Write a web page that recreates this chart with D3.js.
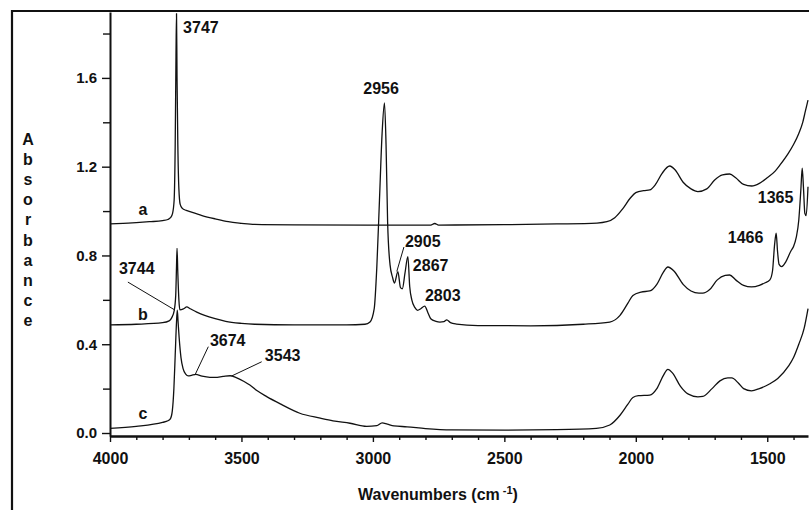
<!DOCTYPE html>
<html>
<head>
<meta charset="utf-8">
<script src="https://cdn.jsdelivr.net/npm/d3@7"></script>
<style>
  html, body { margin: 0; padding: 0; background: #fff; }
  svg { display: block; }
  text { font-family: "Liberation Sans", Arial, Helvetica, sans-serif; font-weight: bold; fill: #111; }
</style>
</head>
<body>
<svg id="chart" width="809" height="510"></svg>
<script>
// IR spectra: [wavenumber (cm-1), absorbance]
const spectrumA = [
  [4000, 0.942], [3950, 0.945], [3900, 0.948], [3850, 0.952], [3800, 0.957],
  [3780, 0.962], [3770, 0.970], [3762, 0.990], [3756, 1.050], [3752, 1.300],
  [3749, 1.700], [3747, 1.890], [3745, 1.600], [3742, 1.300], [3738, 1.100],
  [3733, 1.030], [3725, 1.012], [3710, 1.003], [3690, 0.995], [3650, 0.980],
  [3600, 0.965], [3550, 0.952], [3500, 0.945], [3450, 0.940], [3300, 0.938],
  [3000, 0.937], [2780, 0.937], [2765, 0.944], [2750, 0.937], [2500, 0.939],
  [2300, 0.942], [2148, 0.946], [2110, 0.952], [2080, 0.970], [2050, 1.010],
  [2020, 1.060], [2000, 1.083], [1970, 1.092], [1947, 1.095], [1925, 1.120],
  [1900, 1.170], [1871, 1.203], [1850, 1.185], [1820, 1.130], [1790, 1.100],
  [1764, 1.088], [1730, 1.100], [1700, 1.140], [1670, 1.163], [1643, 1.167],
  [1620, 1.150], [1590, 1.120], [1559, 1.113], [1530, 1.125], [1500, 1.150],
  [1470, 1.180], [1450, 1.210], [1420, 1.260], [1400, 1.300], [1380, 1.350],
  [1365, 1.400], [1355, 1.450], [1345, 1.500]
];

const spectrumB = [
  [4000, 0.487], [3900, 0.490], [3800, 0.497], [3775, 0.505], [3765, 0.520],
  [3756, 0.550], [3750, 0.620], [3747, 0.750], [3745, 0.832], [3742, 0.720],
  [3738, 0.600], [3734, 0.555], [3720, 0.560], [3708, 0.568], [3695, 0.560],
  [3670, 0.545], [3640, 0.530], [3600, 0.515], [3560, 0.503], [3500, 0.494],
  [3450, 0.490], [3300, 0.487], [3100, 0.487], [3030, 0.490], [3011, 0.500],
  [2995, 0.560], [2985, 0.750], [2975, 1.050], [2965, 1.350], [2956, 1.487],
  [2950, 1.300], [2944, 0.950], [2935, 0.760], [2925, 0.700], [2918, 0.676],
  [2905, 0.727], [2895, 0.655], [2888, 0.650], [2878, 0.720], [2867, 0.795],
  [2860, 0.660], [2852, 0.600], [2840, 0.565], [2830, 0.553], [2818, 0.560],
  [2803, 0.572], [2790, 0.540], [2780, 0.515], [2760, 0.503], [2745, 0.500],
  [2730, 0.502], [2719, 0.510], [2705, 0.497], [2682, 0.491], [2600, 0.484],
  [2400, 0.483], [2200, 0.490], [2099, 0.500], [2060, 0.530], [2030, 0.585],
  [2011, 0.620], [1980, 0.635], [1947, 0.640], [1920, 0.670], [1895, 0.725],
  [1878, 0.748], [1855, 0.730], [1820, 0.670], [1790, 0.640], [1760, 0.630],
  [1745, 0.630], [1720, 0.645], [1690, 0.690], [1660, 0.710], [1643, 0.712],
  [1620, 0.690], [1590, 0.665], [1560, 0.658], [1530, 0.665], [1510, 0.676],
  [1490, 0.690], [1480, 0.730], [1472, 0.850], [1466, 0.900], [1461, 0.820],
  [1455, 0.760], [1445, 0.750], [1430, 0.770], [1410, 0.820], [1400, 0.840],
  [1390, 0.880], [1380, 0.960], [1372, 1.100], [1367, 1.193], [1362, 1.100],
  [1357, 0.990], [1352, 0.980], [1345, 1.110]
];

const spectrumC = [
  [4000, 0.021], [3900, 0.030], [3800, 0.048], [3780, 0.055], [3770, 0.065],
  [3763, 0.100], [3757, 0.200], [3752, 0.350], [3747, 0.500], [3744, 0.554],
  [3741, 0.500], [3737, 0.430], [3730, 0.340], [3722, 0.290], [3712, 0.265],
  [3702, 0.257], [3690, 0.260], [3674, 0.264], [3650, 0.256], [3620, 0.251],
  [3600, 0.251], [3570, 0.255], [3543, 0.258], [3520, 0.250], [3490, 0.232],
  [3468, 0.216], [3440, 0.190], [3404, 0.164], [3350, 0.130], [3278, 0.089],
  [3200, 0.067], [3152, 0.055], [3087, 0.044], [3024, 0.030], [2985, 0.033],
  [2965, 0.046], [2945, 0.040], [2920, 0.032], [2870, 0.028], [2800, 0.020],
  [2700, 0.014], [2500, 0.013], [2300, 0.015], [2150, 0.021], [2099, 0.036],
  [2060, 0.080], [2030, 0.130], [2011, 0.160], [1990, 0.168], [1947, 0.171],
  [1920, 0.200], [1895, 0.260], [1878, 0.287], [1860, 0.270], [1830, 0.210],
  [1800, 0.175], [1764, 0.163], [1745, 0.165], [1710, 0.200], [1680, 0.235],
  [1650, 0.248], [1635, 0.248], [1610, 0.225], [1590, 0.200], [1560, 0.190],
  [1530, 0.200], [1490, 0.222], [1460, 0.246], [1420, 0.300], [1400, 0.340],
  [1380, 0.400], [1360, 0.470], [1345, 0.560]
];

// Axis ticks
const xMajorTicks = [4000, 3500, 3000, 2500, 2000, 1500];
const xMinorTicks = d3.range(3900, 1345, -100).filter(v => v % 500 !== 0);
const yMajorTicks = [0.0, 0.4, 0.8, 1.2, 1.6];
const yMinorTicks = [0.2, 0.6, 1.0, 1.4, 1.8];

// Trace letters and peak annotations (text, wavenumber, absorbance at baseline)
const traceNames = ["a", "b", "c"];
const traceNameY = [0.982, 0.509, 0.062];
const peakLabels = ["3747", "2956", "2905", "2867", "2803", "1466", "1365", "3744", "3674", "3543"];
const peakLabelWn = [3722, 2969, 2878, 2848, 2802, 1650, 1536, 3966, 3620, 3411];
const peakLabelA = [1.804, 1.526, 0.837, 0.731, 0.596, 0.858, 1.035, 0.717, 0.392, 0.324];
const peakLabelAnchor = ["start", "middle", "start", "start", "start", "start", "start", "start", "start", "start"];
// Leader lines: [fromWn, fromA, toWn, toA]
const leaders = [
  [2882, 0.838, 2909, 0.728],
  [3932, 0.680, 3753, 0.554],
  [3626, 0.389, 3677, 0.261],
  [3423, 0.321, 3537, 0.257]
];

const svg = d3.select("#chart");
const W = 809, H = 510;

const x = d3.scaleLinear().domain([4000, 1345]).range([110, 808]);
const y = d3.scaleLinear().domain([-0.0135, 1.897]).range([436, 12]);

// outer frame (extends past the visible page on right and bottom)
svg.append("path")
  .attr("d", `M12,${H + 10} L12,11 L${W + 10},11`)
  .attr("fill", "none").attr("stroke", "#111").attr("stroke-width", 2.2);

// clip for the spectra
svg.append("defs").append("clipPath").attr("id", "plot-clip")
  .append("rect").attr("x", 110).attr("y", 12).attr("width", 700).attr("height", 424);

const line = d3.line()
  .x(d => x(d[0]))
  .y(d => y(d[1]))
  .curve(d3.curveMonotoneX);

const traces = svg.append("g").attr("clip-path", "url(#plot-clip)");
[spectrumA, spectrumB, spectrumC].forEach(s => {
  traces.append("path")
    .attr("d", line(s))
    .attr("fill", "none")
    .attr("stroke", "#111")
    .attr("stroke-width", 1.3)
    .attr("stroke-linejoin", "round");
});

// x axis
const xAxisMinor = d3.axisBottom(x).tickValues(xMinorTicks).tickSize(4).tickFormat("").tickSizeOuter(0);
const xAxisMajor = d3.axisBottom(x).tickValues(xMajorTicks).tickSize(6).tickPadding(11)
  .tickFormat(d3.format("d")).tickSizeOuter(0);

const gxm = svg.append("g").attr("transform", "translate(0,436)").call(xAxisMinor);
gxm.select(".domain").remove();
const gx = svg.append("g").attr("transform", "translate(0,436)").call(xAxisMajor);
gx.select(".domain").attr("stroke", "#111").attr("stroke-width", 2.4);
svg.selectAll("g.tick line").attr("stroke", "#111").attr("stroke-width", 1.4);
gx.selectAll("text").attr("font-size", 16).attr("fill", "#111")
  .style("font-family", '"Liberation Sans", Arial, sans-serif').style("font-weight", "bold");

// y axis
const yAxisMinor = d3.axisLeft(y).tickValues(yMinorTicks).tickSize(7).tickFormat("").tickSizeOuter(0);
const yAxisMajor = d3.axisLeft(y).tickValues(yMajorTicks).tickSize(8).tickPadding(5)
  .tickFormat(d3.format(".1f")).tickSizeOuter(0);

const gym = svg.append("g").attr("transform", "translate(110,0)").call(yAxisMinor);
gym.select(".domain").remove();
const gy = svg.append("g").attr("transform", "translate(110,0)").call(yAxisMajor);
gy.select(".domain").attr("stroke", "#111").attr("stroke-width", 2);
svg.selectAll("g.tick line").attr("stroke", "#111").attr("stroke-width", 1.4);
gy.selectAll("text").attr("font-size", 15).attr("fill", "#111")
  .style("font-family", '"Liberation Sans", Arial, sans-serif').style("font-weight", "bold");

// axis titles
const xt = svg.append("text")
  .attr("x", 438).attr("y", 499.5)
  .attr("text-anchor", "middle").attr("font-size", 16);
xt.append("tspan").text("Wavenumbers  (cm");
xt.append("tspan").attr("font-size", 11).attr("dy", -6).attr("dx", 3).text("-1");
xt.append("tspan").attr("dy", 6).text(")");

const ylab = "Absorbance".split("");
svg.append("g").selectAll("text").data(ylab).join("text")
  .attr("x", 28)
  .attr("y", (d, i) => 144.5 + i * 20.2)
  .attr("text-anchor", "middle")
  .attr("font-size", 16)
  .text(d => d);

// trace letters
svg.append("g").selectAll("text").data(traceNames).join("text")
  .attr("x", x(3875))
  .attr("y", (d, i) => y(traceNameY[i]))
  .attr("text-anchor", "middle")
  .attr("font-size", 16)
  .text(d => d);

// peak labels
svg.append("g").selectAll("text").data(peakLabels).join("text")
  .attr("x", (d, i) => x(peakLabelWn[i]))
  .attr("y", (d, i) => y(peakLabelA[i]))
  .attr("text-anchor", (d, i) => peakLabelAnchor[i])
  .attr("font-size", 16)
  .text(d => d);

svg.append("g").selectAll("line").data(leaders).join("line")
  .attr("x1", d => x(d[0])).attr("y1", d => y(d[1]))
  .attr("x2", d => x(d[2])).attr("y2", d => y(d[3]))
  .attr("stroke", "#111").attr("stroke-width", 1);
</script>
</body>
</html>
